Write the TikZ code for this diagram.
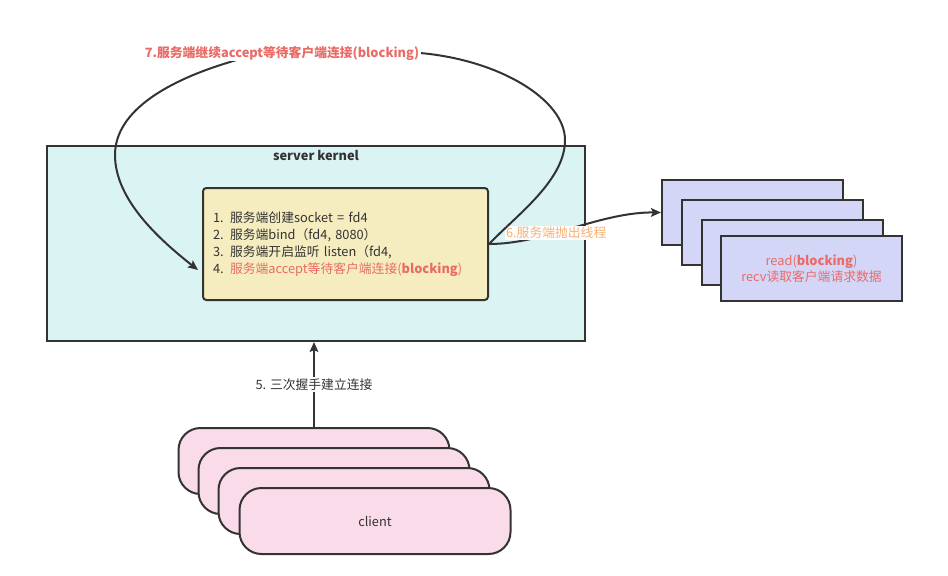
\documentclass[tikz,border=0pt]{standalone}
\usepackage{fontspec}
\setmainfont{Noto Sans CJK SC}
\usetikzlibrary{arrows.meta}
\definecolor{linec}{RGB}{51,51,51}
\definecolor{kernfill}{RGB}{218,244,244}
\definecolor{innerfill}{RGB}{245,237,192}
\definecolor{thrfill}{RGB}{212,214,248}
\definecolor{clifill}{RGB}{249,219,234}
\definecolor{salmon}{RGB}{234,107,102}
\definecolor{orangelbl}{RGB}{248,176,116}
\tikzset{
  txt/.style={font=\fontsize{9.6pt}{12.75pt}\selectfont, text=linec},
  kbox/.style={draw=linec, line width=1.5pt, fill=kernfill, minimum width=403.5pt, minimum height=146.25pt, inner sep=0pt},
  ibox/.style={txt, draw=linec, line width=1.5pt, fill=innerfill, rounded corners=2.5pt, minimum width=213.75pt, minimum height=84pt, text width=198.75pt, inner xsep=7.5pt, align=left},
  tbox/.style={txt, draw=linec, line width=1.5pt, fill=thrfill, minimum width=135.75pt, minimum height=48.75pt, inner sep=0pt, align=center},
  cbox/.style={txt, draw=linec, line width=1.5pt, fill=clifill, rounded corners=16.5pt, minimum width=203.25pt, minimum height=49.5pt, inner sep=0pt},
  conn/.style={draw=linec, line width=1.5pt, -{Stealth[length=7.5pt,width=6.5pt,inset=1.5pt]}},
  lblw/.style={txt, fill=white, inner sep=1pt},
}
\begin{document}
\begin{tikzpicture}[x=0.75pt,y=-0.75pt]
\useasboundingbox (0,0) rectangle (948,575);
% server kernel
\node[kbox] (kernel) at (316,243.5) {};
\node[txt, font=\fontsize{9.6pt}{12pt}\selectfont\bfseries] (ktitle) at (316,155) {server kernel};
\node[ibox] (inner) at (345.5,244) {1. 服务端创建socket = fd4\\2. 服务端bind（fd4, 8080）\\3. 服务端开启监听 listen（fd4,\\4. \textcolor{salmon}{服务端accept等待客户端连接(\textbf{blocking})}};
% threads
\node[tbox] (t1) at (752.5,212.5) {};
\node[tbox] (t2) at (772.5,232.5) {};
\node[tbox] (t3) at (792.5,252.5) {};
\node[tbox, font=\fontsize{9.6pt}{12pt}\selectfont, text=salmon] (t4) at (811.5,268.5) {read(\textbf{blocking})\\recv读取客户端请求数据};
% clients
\node[cbox] (c1) at (314,461) {};
\node[cbox] (c2) at (334,481) {};
\node[cbox] (c3) at (354,501) {};
\node[cbox] (c4) at (375,521) {client};
% connectors
\draw[conn] (c1.north) -- (c1.north |- kernel.south) node[midway, lblw] {5. 三次握手建立连接};
\draw[conn] (inner.east) .. controls (545,244) and (600,212) .. (t1.west) node[pos=0.4, lblw, text=orangelbl] {6.服务端抛出线程};
\coordinate (e7) at (198,270);
\draw[conn] (inner.east) .. controls (518,214) and (565,180) .. (565,140)
  .. controls (565,100) and (500,60) .. (420,53)
  .. controls (380,47) and (270,48) .. (230,62)
  .. controls (170,80) and (115,110) .. (115,155)
  .. controls (115,200) and (160,240) .. (e7);
\node[lblw, text=salmon, font=\fontsize{9.6pt}{12pt}\selectfont\bfseries] (l7) at (282,53) {7.服务端继续accept等待客户端连接(blocking)};
\end{tikzpicture}
\end{document}
